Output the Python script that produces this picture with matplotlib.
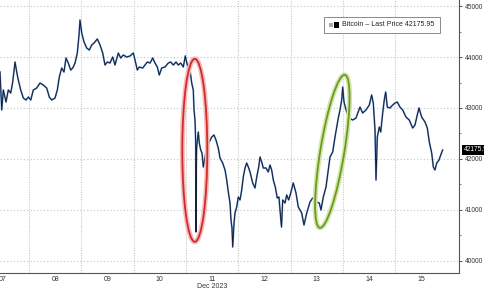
#!/usr/bin/env python3
"""
比特币价格走势图 (Bloomberg 风格), 2023年12月
"""

import matplotlib
matplotlib.use('Agg')
import matplotlib.pyplot as plt
from matplotlib.patches import Ellipse, Rectangle
from matplotlib.transforms import IdentityTransform
from matplotlib.ticker import MultipleLocator

plt.rcParams['font.family'] = ['Liberation Sans', 'DejaVu Sans']

# 12月日期 (带小数) 与价格
day = [7.445, 7.478, 7.509, 7.560, 7.604, 7.650, 7.688, 7.732, 7.765, 7.795,
       7.841, 7.891, 7.943, 7.987, 8.033, 8.082, 8.147, 8.210, 8.273, 8.338,
       8.388, 8.434, 8.497, 8.541, 8.579, 8.625, 8.669, 8.707, 8.751, 8.797,
       8.836, 8.880, 8.923, 8.956, 8.975, 9.008, 9.052, 9.103, 9.153, 9.199,
       9.243, 9.306, 9.358, 9.409, 9.453, 9.497, 9.549, 9.600, 9.644, 9.707,
       9.753, 9.803, 9.868, 9.931, 9.994, 10.027, 10.071, 10.109, 10.174, 10.218,
       10.262, 10.314, 10.365, 10.409, 10.453, 10.491, 10.537, 10.600, 10.663, 10.709,
       10.759, 10.811, 10.855, 10.900, 10.950, 10.988, 11.027, 11.078, 11.111, 11.141,
       11.155, 11.174, 11.187, 11.193, 11.199, 11.206, 11.237, 11.256, 11.283, 11.308,
       11.333, 11.365, 11.398, 11.447, 11.493, 11.537, 11.575, 11.619, 11.652, 11.703,
       11.748, 11.780, 11.811, 11.843, 11.862, 11.881, 11.895, 11.920, 11.939, 11.971,
       12.002, 12.034, 12.067, 12.097, 12.130, 12.162, 12.193, 12.226, 12.277, 12.321,
       12.354, 12.392, 12.417, 12.449, 12.480, 12.531, 12.575, 12.608, 12.640, 12.671,
       12.709, 12.747, 12.780, 12.799, 12.828, 12.851, 12.895, 12.927, 12.965, 13.004,
       13.053, 13.105, 13.149, 13.214, 13.258, 13.310, 13.373, 13.424, 13.487, 13.550,
       13.583, 13.627, 13.679, 13.723, 13.755, 13.807, 13.851, 13.883, 13.914, 13.946,
       13.979, 13.998, 14.023, 14.074, 14.124, 14.189, 14.252, 14.329, 14.380, 14.443,
       14.507, 14.552, 14.583, 14.616, 14.635, 14.660, 14.698, 14.725, 14.763, 14.793,
       14.820, 14.851, 14.902, 14.954, 14.998, 15.042, 15.093, 15.145, 15.208, 15.271,
       15.336, 15.380, 15.424, 15.457, 15.508, 15.572, 15.616, 15.654, 15.700, 15.731,
       15.763, 15.796, 15.840, 15.872, 15.910]

price = [43706, 42961, 43353, 43117, 43353, 43294, 43510, 43902, 43706, 43549,
         43353, 43196, 43157, 43215, 43157, 43353, 43392, 43490, 43451, 43392,
         43215, 43157, 43196, 43353, 43608, 43784, 43706, 43980, 43882, 43745,
         43784, 43882, 44078, 44431, 44725, 44471, 44294, 44176, 44137, 44235,
         44274, 44353, 44235, 44078, 43843, 43902, 43882, 44000, 43843, 44078,
         43980, 44039, 44000, 44020, 44078, 43941, 43745, 43804, 43784, 43843,
         43902, 43882, 43980, 43882, 43804, 43647, 43784, 43804, 43882, 43902,
         43843, 43902, 43843, 43882, 43804, 44020, 43843, 43745, 43490, 43353,
         42961, 42764, 42313, 40570, 41843, 42235, 42529, 42313, 42176, 42117,
         41843, 42039, 42235, 42333, 42431, 42470, 42372, 42215, 42019, 41921,
         41784, 41588, 41353, 41137, 40804, 40647, 40274, 40745, 40941, 41058,
         41254, 41196, 41392, 41647, 41823, 41921, 41843, 41745, 41529, 41431,
         41647, 41843, 42039, 41941, 41823, 41823, 41745, 41882, 41784, 41588,
         41451, 41235, 41254, 41000, 40666, 41196, 41137, 41294, 41196, 41333,
         41529, 41333, 41058, 40941, 40705, 40941, 41156, 41235, 41156, 41137,
         41000, 41254, 41451, 41784, 42039, 42137, 42431, 42627, 42804, 42961,
         43157, 43412, 43117, 42921, 42804, 42764, 42804, 43019, 42902, 42961,
         43059, 43255, 43098, 42568, 41588, 42431, 42627, 42529, 42902, 43157,
         43314, 43019, 43000, 43059, 43098, 43117, 43019, 42961, 42823, 42764,
         42608, 42666, 42863, 43000, 42823, 42725, 42608, 42333, 42117, 41843,
         41784, 41921, 41980, 42078, 42176]

day_labels = ['07', '08', '09', '10', '11', '12', '13', '14', '15']
day_label_pos = [7.5, 8.5, 9.5, 10.5, 11.5, 12.5, 13.5, 14.5, 15.5]
grid_days = [8, 9, 10, 11, 12, 13, 14, 15]
y_ticks = [40000, 41000, 42000, 43000, 44000, 45000]

last_price = 42175.95

# 椭圆标注: 中心(日期, 价格), 像素宽高, 角度
red_ring = (11.17, 42170, 25, 183, 0)
green_ring = (13.80, 42150, 24, 155, -9.3)

W, H = 485, 291
fig = plt.figure(figsize=(W / 100, H / 100), dpi=100)
ax = fig.add_axes([0, 18 / H, 459 / W, 273 / H])
ax.set_xlim(7.445, 16.222)
ax.set_ylim(39764, 45118)

# 网格
for g in grid_days:
    ax.axvline(g, color='#c8c8c8', lw=0.8, ls=(0, (1, 1.2)), zorder=0)
for y in y_ticks:
    ax.axhline(y, color='#c4c4c4', lw=0.8, ls=(0, (1, 2)), zorder=0)

# 价格线
ax.plot(day, price, color='#6a9ad6', lw=1.25, zorder=2)
ax.plot(day, price, color='#141d33', lw=0.7, zorder=3)

# 坐标轴样式
for s in ['left', 'top']:
    ax.spines[s].set_visible(False)
for s in ['right', 'bottom']:
    ax.spines[s].set_color('#555555')
    ax.spines[s].set_linewidth(0.8)

ax.yaxis.tick_right()
ax.set_yticks(y_ticks)
ax.set_yticklabels([str(v) for v in y_ticks])
ax.yaxis.set_minor_locator(MultipleLocator(500))
ax.tick_params(axis='y', which='major', length=2.5, width=0.6, pad=1.5,
               labelsize=4.8, colors='#333333')
ax.tick_params(axis='y', which='minor', length=1.5, width=0.5, colors='#555555')

ax.set_xticks(day_label_pos)
ax.set_xticklabels(day_labels)
ax.tick_params(axis='x', length=0, pad=2.2, labelsize=5, colors='#333333')
fig.text(212 / W, 1 - 287 / H, 'Dec 2023', ha='center', va='center',
         fontsize=5, color='#333333')

# 图例框
fig.add_artist(Rectangle((324 / W, 1 - 33 / H), 116 / W, 16 / H,
                         transform=fig.transFigure, fc='white', ec='#8a8a8a', lw=0.7))
fig.add_artist(Rectangle((329 / W, 1 - 27 / H), 3.5 / W, 4 / H,
                         transform=fig.transFigure, fc='#aaaaaa', ec='none'))
fig.add_artist(Rectangle((334 / W, 1 - 27.5 / H), 5 / W, 5 / H,
                         transform=fig.transFigure, fc='black', ec='none'))
fig.text(341.5 / W, 1 - 25 / H, f'Bitcoin \u2013 Last Price {last_price:.2f}',
         ha='left', va='center', fontsize=5, color='#222222')

# 最新价格标签 (与原图一样在右边缘被截断)
fig.text(463.5 / W, 1 - 150 / H, f'{last_price:.2f}', ha='left', va='center',
         fontsize=4.8, color='white',
         bbox=dict(boxstyle='square,pad=0.2', fc='black', ec='none'))

# 椭圆
for (d, v, w, h, a), core, halo in [(red_ring, '#d22b2b', '#f3bcbc'),
                                    (green_ring, '#6c9a1e', '#d3e6ac')]:
    cx, cy = ax.transData.transform((d, v))
    for lw, col in [(3.6, halo), (1.3, core)]:
        fig.add_artist(Ellipse((cx, cy), w, h, angle=a, transform=IdentityTransform(),
                               fill=False, ec=col, lw=lw, zorder=5))

fig.savefig('out.png', dpi=100, facecolor='white')
plt.close()
